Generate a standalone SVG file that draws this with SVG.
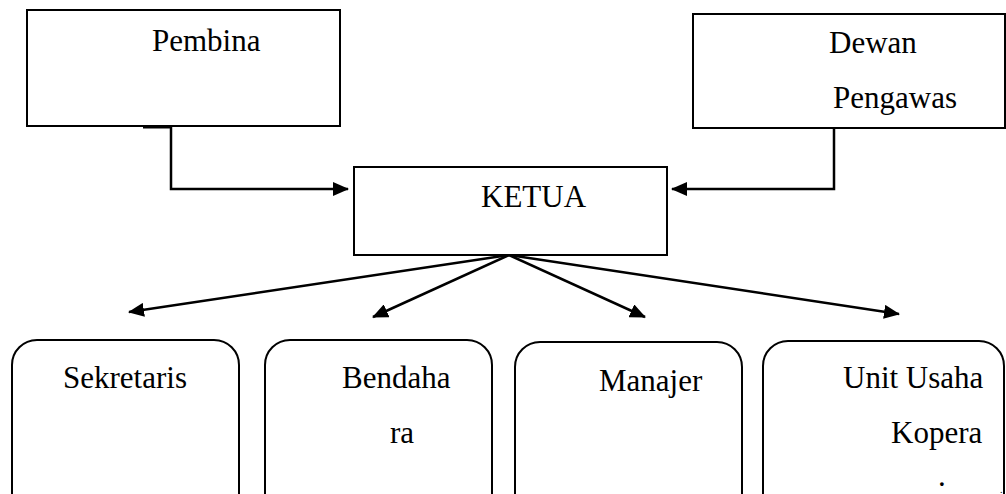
<svg xmlns="http://www.w3.org/2000/svg" width="1006" height="494" viewBox="0 0 1006 494">
<defs>
<style>
.box{fill:#fff;stroke:#000;stroke-width:2}
.t{font-family:'Liberation Serif','DejaVu Serif',serif;font-size:31px;fill:#000}
.c{fill:none;stroke:#000;stroke-width:2.5}
</style>
<marker id="ah" viewBox="0 0 16 14" refX="15" refY="7" markerWidth="16" markerHeight="14" markerUnits="userSpaceOnUse" orient="auto" preserveAspectRatio="none">
<path d="M0,0 L16,7 L0,14 z" fill="#000"/>
</marker>
</defs>
<rect width="1006" height="494" fill="#fff"/>
<g id="connectors">
<line x1="143" y1="127" x2="172" y2="127" stroke="#000" stroke-width="3"/>
<path class="c" d="M171,127 V189 H348" marker-end="url(#ah)"/>
<path class="c" d="M834,128 V189 H672" marker-end="url(#ah)"/>
<line class="c" x1="509" y1="255" x2="129" y2="312" marker-end="url(#ah)"/>
<line class="c" x1="509" y1="255" x2="373" y2="317" marker-end="url(#ah)"/>
<line class="c" x1="509" y1="255" x2="645" y2="317" marker-end="url(#ah)"/>
<line class="c" x1="509" y1="255" x2="899" y2="314" marker-end="url(#ah)"/>
</g>
<g id="pembina">
<rect class="box" x="27" y="10" width="313" height="116"/>
<text class="t" x="152" y="51">Pembina</text>
</g>
<g id="dewan-pengawas">
<rect class="box" x="693" y="14" width="312" height="114"/>
<text class="t" x="829" y="53">Dewan</text>
<text class="t" x="833" y="108">Pengawas</text>
</g>
<g id="ketua">
<rect class="box" x="354" y="167" width="313" height="88"/>
<text class="t" x="481" y="207">KETUA</text>
</g>
<g id="sekretaris">
<rect class="box" x="12" y="340" width="227" height="180" rx="25" ry="25"/>
<text class="t" x="63" y="388">Sekretaris</text>
</g>
<g id="bendahara">
<rect class="box" x="265" y="340" width="227" height="180" rx="25" ry="25"/>
<text class="t" x="342" y="388">Bendaha</text>
<text class="t" x="390" y="443">ra</text>
</g>
<g id="manajer">
<rect class="box" x="515" y="342" width="227" height="180" rx="25" ry="25"/>
<text class="t" x="599" y="391">Manajer</text>
</g>
<g id="unit-usaha">
<rect class="box" x="763" y="341" width="241" height="180" rx="25" ry="25"/>
<text class="t" x="843" y="388">Unit Usaha</text>
<text class="t" x="891" y="443">Kopera</text>
<text class="t" x="938" y="486">.</text>
<text class="t" x="1000" y="493" style="font-size:10px">.</text>
</g>
</svg>
